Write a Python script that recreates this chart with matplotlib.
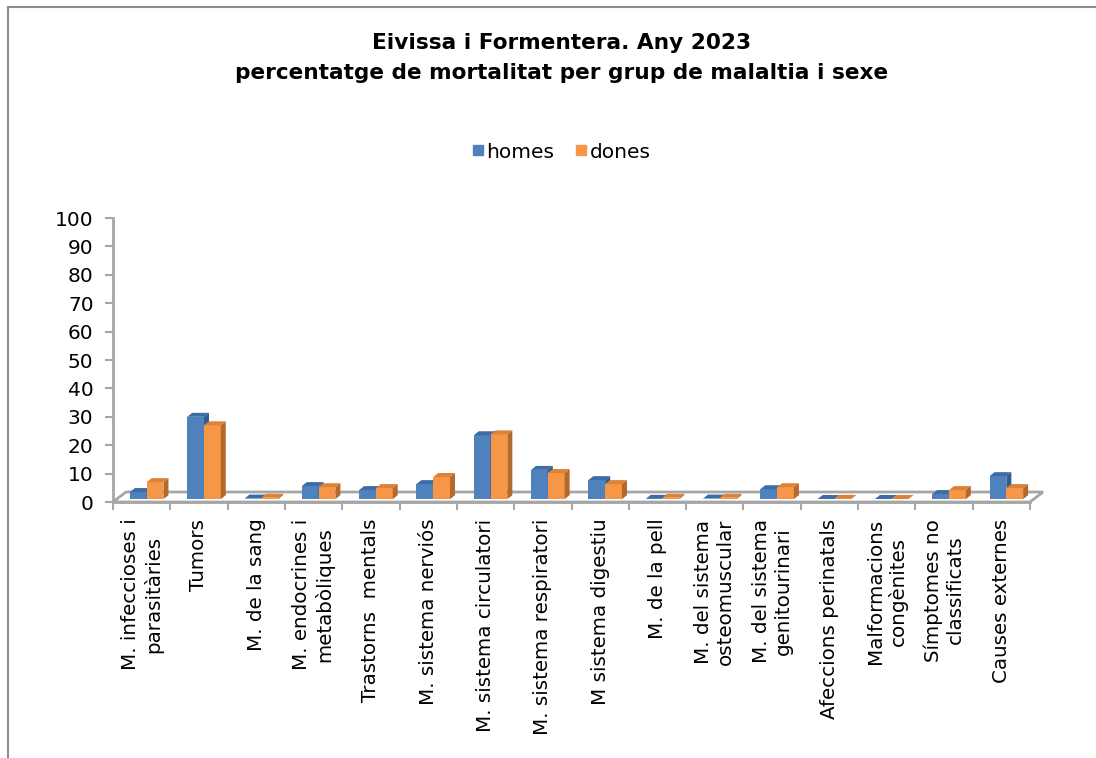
import matplotlib
matplotlib.use("Agg")
import matplotlib.pyplot as plt
from matplotlib.patches import Polygon, Rectangle
from matplotlib.lines import Line2D

categories = ["M. infeccioses i\nparasitàries", "Tumors", "M. de la sang",
              "M. endocrines i\nmetabòliques", "Trastorns  mentals",
              "M. sistema nerviós", "M. sistema circulatori",
              "M. sistema respiratori", "M sistema digestiu", "M. de la pell",
              "M. del sistema\nosteomuscular", "M. del sistema\ngenitourinari",
              "Afeccions perinatals", "Malformacions\ncongènites",
              "Símptomes no\nclassificats", "Causes externes"]
homes = [2.5, 29.0, 0.2, 4.6, 3.2, 5.3, 22.5, 10.3, 6.7, 0.1, 0.2, 3.5, 0.05, 0.05, 1.8, 8.1]
dones = [6.0, 26.0, 0.5, 4.2, 3.9, 7.8, 22.8, 9.2, 5.3, 0.5, 0.5, 4.2, 0.1, 0.05, 3.2, 3.9]
series = ["homes", "dones"]
yticks = list(range(0, 101, 10))

W, H = 1096, 758
fig = plt.figure(figsize=(W / 100, H / 100), dpi=100)
plt.rcParams['font.family'] = ['DejaVu Sans']

ax_l, ax_r, ax_b, ax_t = 113, 1030, 502, 218
ax = fig.add_axes([ax_l / W, 1 - ax_b / H, (ax_r - ax_l) / W, (ax_b - ax_t) / H])
ax.set_xlim(-0.5, len(categories) - 0.5)
ax.set_ylim(0, 100)

pxx = len(categories) / (ax_r - ax_l)
pxy = 100 / (ax_b - ax_t)

front_blue, top_blue, side_blue = "#4F81BD", "#3D6DA6", "#2F5B8E"
front_or, top_or, side_or = "#F79646", "#DE8238", "#B3682C"
grey = "#A6A6A6"

# floor
fdx, fdy = 13 * pxx, 10 * pxy
x0, x1 = -0.5, len(categories) - 0.5
ax.add_patch(Polygon([(x0, 0), (x0 + fdx, fdy), (x1 + fdx, fdy), (x1, 0)], closed=True,
                     facecolor="white", edgecolor=grey, lw=2, zorder=1, clip_on=False))

base = 1.0
bw = 16.8 * pxx
dx, dy = 5 * pxx, 4 * pxy
offs = [-11.8 * pxx, 5.0 * pxx]

def bar3d(xl, h, fc, tc, sc):
    ax.add_patch(Rectangle((xl, base), bw, h, facecolor=fc, edgecolor="none", zorder=3, clip_on=False))
    ax.add_patch(Polygon([(xl, base + h), (xl + bw, base + h), (xl + bw + dx, base + h + dy),
                          (xl + dx, base + h + dy)], closed=True, facecolor=tc, edgecolor="none",
                         zorder=3, clip_on=False))
    ax.add_patch(Polygon([(xl + bw, base), (xl + bw + dx, base + dy), (xl + bw + dx, base + h + dy),
                          (xl + bw, base + h)], closed=True, facecolor=sc, edgecolor="none",
                         zorder=3, clip_on=False))

for i in range(len(categories)):
    bar3d(i + offs[0], homes[i], front_blue, top_blue, side_blue)
    bar3d(i + offs[1], dones[i], front_or, top_or, side_or)

for s in ["top", "right"]:
    ax.spines[s].set_visible(False)
ax.spines["left"].set_color(grey)
ax.spines["left"].set_linewidth(2)
ax.spines["bottom"].set_color(grey)
ax.spines["bottom"].set_linewidth(2)
ax.spines["bottom"].set_zorder(2)

ax.set_yticks(yticks)
ax.set_yticklabels([str(v) for v in yticks], fontsize=14.5)
ax.tick_params(axis="y", length=6, width=1.5, color=grey, pad=8)

ax.set_xticks(range(len(categories)))
ax.set_xticklabels(categories, rotation=90, fontsize=14.3, ha="center", va="top",
                   multialignment="center", linespacing=1.2)
ax.tick_params(axis="x", which="major", length=0, pad=12)
ax.set_xticks([k - 0.5 for k in range(len(categories) + 1)], minor=True)
ax.tick_params(axis="x", which="minor", length=6, width=1.5, color=grey)

# title
fig.text(0.512, 1 - 43 / H, "Eivissa i Formentera. Any 2023", ha="center", va="center",
         fontsize=15.6, fontweight="bold")
fig.text(0.512, 1 - 73 / H, "percentatge de mortalitat per grup de malaltia i sexe", ha="center",
         va="center", fontsize=15.6, fontweight="bold")

# legend
handles = [Line2D([], [], marker="s", linestyle="none", markersize=7.5, color=front_blue),
           Line2D([], [], marker="s", linestyle="none", markersize=7.5, color=front_or)]
fig.legend(handles, series, loc="center", bbox_to_anchor=(0.512, 1 - 152 / H), ncol=2,
           frameon=False, fontsize=14.5, handlelength=0.6, handletextpad=0.15, columnspacing=1.0)

# outer frame
fig.add_artist(Line2D([8 / W, 1], [1 - 7 / H, 1 - 7 / H], color="#8C8C8C", lw=1.5))
fig.add_artist(Line2D([8 / W, 8 / W], [0, 1 - 7 / H], color="#8C8C8C", lw=1.5))

fig.savefig("out.png", dpi=100)
